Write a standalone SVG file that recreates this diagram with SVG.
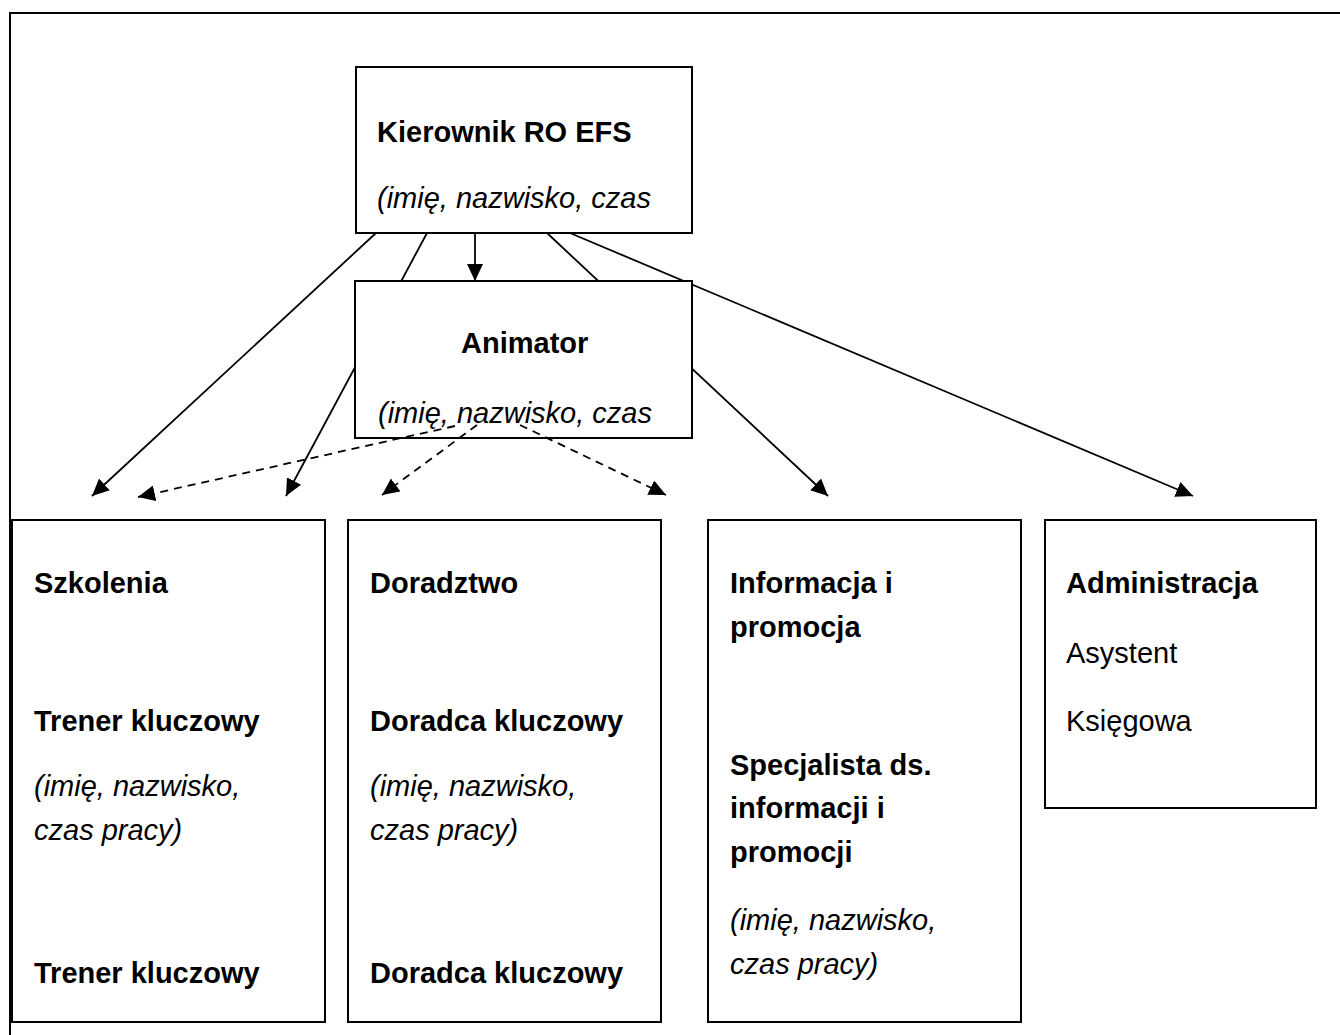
<svg xmlns="http://www.w3.org/2000/svg" width="1340" height="1035" viewBox="0 0 1340 1035">
<defs>
<style>
.box{fill:#fff;stroke:#000;stroke-width:2}
.b{font-family:"Liberation Sans",Arial,sans-serif;font-weight:bold;font-size:29px;fill:#000}
.i{font-family:"Liberation Sans",Arial,sans-serif;font-style:italic;font-size:29px;fill:#000}
.r{font-family:"Liberation Sans",Arial,sans-serif;font-size:29px;fill:#000}
.c{fill:none;stroke:#000;stroke-width:1.8;marker-end:url(#ah)}
.d{fill:none;stroke:#000;stroke-width:1.8;stroke-dasharray:8 6;marker-end:url(#ah)}
</style>
<marker id="ah" markerUnits="userSpaceOnUse" markerWidth="18" markerHeight="16" refX="17" refY="8" orient="auto">
<path d="M0,0 L17,8 L0,16 Z" fill="#000"/>
</marker>
</defs>
<rect width="1340" height="1035" fill="#fff"/>
<g id="frame" fill="none" stroke="#000" stroke-width="2">
<path d="M10,1035 L10,13 L1340,13"/>
</g>
<g id="connectors">
<line class="c" x1="376" y1="233" x2="92" y2="496"/>
<line class="c" x1="427" y1="233" x2="286" y2="496"/>
<line class="c" x1="475" y1="233" x2="475" y2="281"/>
<line class="c" x1="547" y1="233" x2="828" y2="496"/>
<line class="c" x1="570" y1="233" x2="1193" y2="496"/>
</g>
<g id="kierownik">
<rect class="box" x="356" y="67" width="336" height="166"/>
<text class="b" x="377" y="142">Kierownik RO EFS</text>
<text class="i" x="377" y="208">(imię, nazwisko, czas</text>
</g>
<g id="animator">
<rect class="box" x="355" y="281" width="337" height="157"/>
<text class="b" x="461" y="353">Animator</text>
<text class="i" x="378" y="423">(imię, nazwisko, czas</text>
</g>
<g id="connectors-dashed">
<line class="d" x1="455" y1="426" x2="138" y2="497"/>
<line class="d" x1="477" y1="425" x2="382" y2="495"/>
<line class="d" x1="520" y1="425" x2="666" y2="495"/>
</g>
<g id="szkolenia">
<rect class="box" x="12" y="520" width="313" height="502"/>
<text class="b" x="34" y="593">Szkolenia</text>
<text class="b" x="34" y="731">Trener kluczowy</text>
<text class="i" x="34" y="796">(imię, nazwisko,</text>
<text class="i" x="34" y="840">czas pracy)</text>
<text class="b" x="34" y="983">Trener kluczowy</text>
</g>
<g id="doradztwo">
<rect class="box" x="348" y="520" width="313" height="502"/>
<text class="b" x="370" y="593">Doradztwo</text>
<text class="b" x="370" y="731">Doradca kluczowy</text>
<text class="i" x="370" y="796">(imię, nazwisko,</text>
<text class="i" x="370" y="840">czas pracy)</text>
<text class="b" x="370" y="983">Doradca kluczowy</text>
</g>
<g id="informacja">
<rect class="box" x="708" y="520" width="313" height="502"/>
<text class="b" x="730" y="593">Informacja i</text>
<text class="b" x="730" y="637">promocja</text>
<text class="b" x="730" y="775">Specjalista ds.</text>
<text class="b" x="730" y="818">informacji i</text>
<text class="b" x="730" y="862">promocji</text>
<text class="i" x="730" y="930">(imię, nazwisko,</text>
<text class="i" x="730" y="974">czas pracy)</text>
</g>
<g id="administracja">
<rect class="box" x="1045" y="520" width="271" height="288"/>
<text class="b" x="1066" y="593">Administracja</text>
<text class="r" x="1066" y="663">Asystent</text>
<text class="r" x="1066" y="731">Księgowa</text>
</g>
</svg>
